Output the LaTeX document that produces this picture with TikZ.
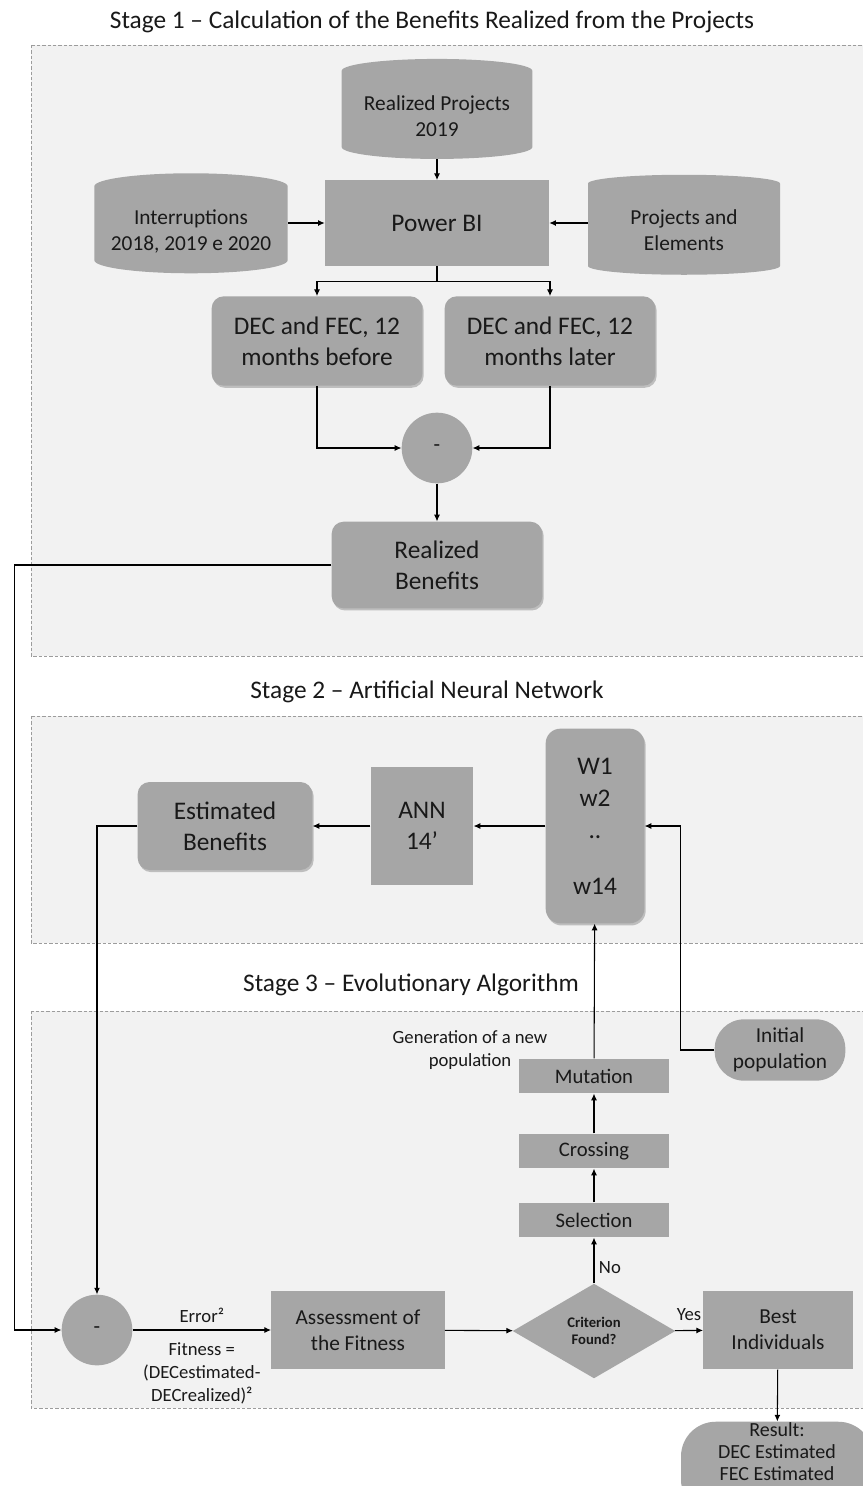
\documentclass[tikz,border=0pt]{standalone}
\usepackage{fontspec}
\setmainfont{Carlito}
\usetikzlibrary{shapes.geometric, shadows, arrows.meta}

\definecolor{boxgray}{HTML}{A6A6A6}
\definecolor{stagebg}{HTML}{F2F2F2}
\definecolor{stageline}{HTML}{9C9C9C}

\tikzset{
  box/.style={fill=boxgray, text=black!90, align=center, inner sep=1pt},
  plainbox/.style={box, rectangle},
  softbox/.style={box, rounded corners=9pt, drop shadow={shadow xshift=1pt, shadow yshift=-1.6pt, opacity=0.45}},
  store/.style={box, cylinder, shape border rotate=90, aspect=0.16, minimum height=75pt},
  minus/.style={box, circle, minimum size=53pt, font=\fontsize{16}{19}\selectfont},
  stage/.style={fill=stagebg, draw=stageline, dash pattern=on 2.5pt off 1.5pt, line width=0.6pt},
  line/.style={line width=0.8pt},
  arr/.style={line, -{Latex[length=5pt,width=4.5pt]}},
  titletxt/.style={font=\fontsize{19}{23}\selectfont, text=black!90},
  bigtxt/.style={font=\fontsize{19}{23}\selectfont},
  midtxt/.style={font=\fontsize{16}{19.5}\selectfont},
  smalltxt/.style={font=\fontsize{14}{17}\selectfont, text=black!90, align=center},
}

\begin{document}
\begin{tikzpicture}[x=0.75pt, y=-0.75pt]
  \useasboundingbox[fill=white] (0,0) rectangle (863,1486);
  \draw[stage] (31,45) rectangle (870,656);
  \draw[stage] (31,716) rectangle (870,943);
  \draw[stage] (31,1011) rectangle (870,1408);

  \node[titletxt] (t1) at (432,22) {Stage 1 – Calculation of the Benefits Realized from the Projects};
  \node[store, midtxt, minimum width=143pt] (proj19) at (437,116) {Realized Projects\\2019};
  \node[store, midtxt, minimum width=145pt] (intr) at (191,231) {Interruptions\\2018, 2019 e 2020};
  \node[store, midtxt, minimum width=144pt] (elem) at (684,230) {Projects and\\Elements};
  \node[plainbox, bigtxt, minimum width=168pt, minimum height=64pt] (pbi) at (437,223) {Power BI};
  \node[softbox, bigtxt, minimum width=158pt, minimum height=67pt] (before) at (317,341) {DEC and FEC, 12\\months before};
  \node[softbox, bigtxt, minimum width=158pt, minimum height=67pt] (later) at (550,341) {DEC and FEC, 12\\months later};
  \node[minus] (diff1) at (437,448) {-};
  \node[softbox, bigtxt, minimum width=158pt, minimum height=65pt] (realben) at (437,565) {Realized\\Benefits};

  \draw[arr] (proj19) -- (pbi);
  \draw[arr] (pbi.west -| intr.east) -- (pbi.west);
  \draw[arr] (pbi.east -| elem.west) -- (pbi.east);
  \draw[line] (pbi.south) -- ++(0,16) coordinate (split);
  \draw[arr] (split) -| (before.north);
  \draw[arr] (split) -| (later.north);
  \draw[arr] (before.south) |- (diff1.west);
  \draw[arr] (later.south) |- (diff1.east);
  \draw[arr] (diff1) -- (realben);

  \node[titletxt] (t2) at (427,692) {Stage 2 – Artificial Neural Network};
  \node[softbox, font=\fontsize{19}{24}\selectfont, rounded corners=11pt, minimum width=74pt, minimum height=146pt] (wts) at (595,826) {W1\\w2\\..\\[18pt]w14};
  \node[plainbox, bigtxt, minimum width=77pt, minimum height=89pt] (ann) at (422,826) {ANN\\14’};
  \node[softbox, bigtxt, minimum width=131pt, minimum height=66pt] (est) at (225,826) {Estimated\\Benefits};
  \draw[arr] (wts) -- (ann);
  \draw[arr] (ann) -- (est);

  \node[titletxt] (t3) at (411,985) {Stage 3 – Evolutionary Algorithm};
  \node[box, midtxt, rounded corners=22pt, minimum width=98pt, minimum height=46pt] (init) at (780,1050) {Initial\\population};
  \node[plainbox, font=\fontsize{15.5}{18}\selectfont, minimum width=113pt, minimum height=26pt] (mut) at (594,1076) {Mutation};
  \node[plainbox, font=\fontsize{15.5}{18}\selectfont, minimum width=113pt, minimum height=26pt] (cross) at (594,1151) {Crossing};
  \node[plainbox, font=\fontsize{15.5}{18}\selectfont, minimum width=113pt, minimum height=26pt] (sel) at (594,1220) {Selection};
  \node[smalltxt] (gen) at (470,1050) {Generation of a new\\population};
  \node[minus] (diff2) at (97,1330) {-};
  \node[plainbox, midtxt, minimum width=130pt, minimum height=59pt] (assess) at (358,1330) {Assessment of\\the Fitness};
  \node[box, diamond, font=\bfseries\fontsize{11}{13}\selectfont, inner sep=0pt, minimum width=122pt, minimum height=71pt] (crit) at (594,1331) {Criterion\\Found?};
  \node[plainbox, midtxt, minimum width=112pt, minimum height=59pt] (best) at (778,1330) {Best\\Individuals};
  \node[box, font=\fontsize{15}{16.5}\selectfont, rounded corners=26pt, minimum width=144pt, minimum height=68pt] (result) at (777,1468) {Result:\\DEC Estimated\\FEC Estimated\rule[-24pt]{0pt}{24pt}};

  \draw[arr] (diff2) -- node[smalltxt, above=2pt] {Error²} node[smalltxt, below=6pt] {Fitness =\\(DECestimated-\\DECrealized)²} (assess);
  \draw[arr] (assess) -- (crit);
  \draw[arr] (crit) -- node[smalltxt, above=4pt] {Yes} (best);
  \draw[arr] (crit) -- node[smalltxt, right, pos=0.35] {No} (sel);
  \draw[arr] (sel) -- (cross);
  \draw[arr] (cross) -- (mut);
  \draw[arr] (mut) -- (wts);
  \draw[arr] (init.west) -- ++(-34,0) |- (wts.east);
  \draw[arr] (best) -- (result);
  \draw[arr] (est.west) -| (diff2.north);
  \draw[arr] (realben.west) -- ++(-317,0) |- (diff2.west);
\end{tikzpicture}
\end{document}
